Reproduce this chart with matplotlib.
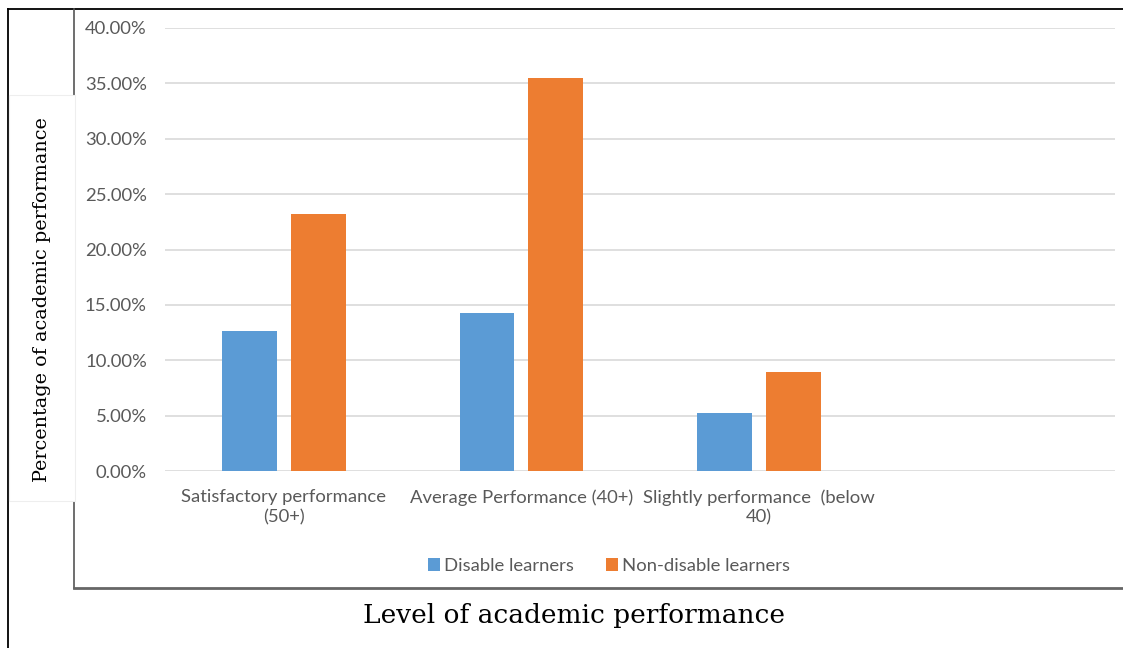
import numpy as np
import matplotlib.pyplot as plt
from matplotlib.patches import Rectangle
from matplotlib.lines import Line2D

# data
categories = ["Satisfactory performance\n(50+)", "Average Performance (40+)",
              "Slightly performance  (below\n40)", ""]
disable = [0.126, 0.143, 0.052, np.nan]
non_disable = [0.232, 0.355, 0.089, np.nan]
yticks = [0.0, 0.05, 0.10, 0.15, 0.20, 0.25, 0.30, 0.35, 0.40]

W, H = 1123, 648
fig = plt.figure(figsize=(W / 100, H / 100), dpi=100)

def fx(px):
    return px / W

def fy(py):
    return 1 - py / H

# ----------------------------
# Frames around the chart
# ----------------------------
fig.add_artist(Line2D([fx(8), fx(8)], [fy(9), 0], color="black", lw=1.3))
fig.add_artist(Line2D([fx(8), 1], [fy(9), fy(9)], color="black", lw=1.3))
fig.add_artist(Line2D([fx(74), fx(74)], [fy(9), fy(588)], color="#555555", lw=1.2))
fig.add_artist(Line2D([fx(74), 1], [fy(588), fy(588)], color="#666666", lw=2))
# white box behind the y label
fig.add_artist(Rectangle((fx(8.7), fy(501)), fx(75 - 8.7), fy(95) - fy(501),
                         facecolor="white", edgecolor="#EEEEEE", lw=0.8, zorder=3))

# ----------------------------
# Bars
# ----------------------------
ax = fig.add_axes([fx(165), fy(471), fx(1115 - 165), fy(28) - fy(471)])
x = np.arange(len(categories))
w = 0.23
gap = 0.06
ax.bar(x - (w + gap) / 2, disable, w, color="#5B9BD5", label="Disable learners", zorder=2)
ax.bar(x + (w + gap) / 2, non_disable, w, color="#ED7D31", label="Non-disable learners", zorder=2)

ax.set_xlim(-0.5, len(categories) - 0.5)
ax.set_ylim(0, 0.40)
ax.set_yticks(yticks)
ax.set_yticklabels([f"{v * 100:.2f}%" for v in yticks])
ax.set_xticks(x)
ax.set_xticklabels(categories)
ax.yaxis.grid(True, color="#D9D9D9", lw=1.2, zorder=0)
for s in ax.spines.values():
    s.set_visible(False)
ax.tick_params(length=0, labelcolor="#595959", labelsize=13.3)
ax.tick_params(axis="y", pad=13)
ax.tick_params(axis="x", pad=13)
for lab in ax.get_xticklabels() + ax.get_yticklabels():
    lab.set_fontfamily("Lato")
    lab.set_linespacing(1.3)

leg = fig.legend(loc="center", bbox_to_anchor=(fx(609), fy(566)), ncol=2, frameon=False,
                 prop={"family": "Lato", "size": 13.3}, handlelength=0.65, handleheight=0.65,
                 handletextpad=0.25, columnspacing=1.7)
for t in leg.get_texts():
    t.set_color("#595959")

fig.text(fx(42), fy(300), "Percentage of academic performance", rotation=90,
         ha="center", va="center", fontfamily="DejaVu Serif", fontsize=13.8, zorder=4)
fig.text(fx(574), fy(616), "Level of academic performance",
         ha="center", va="center", fontfamily="DejaVu Serif", fontsize=19)

fig.savefig("out.png", dpi=100)
